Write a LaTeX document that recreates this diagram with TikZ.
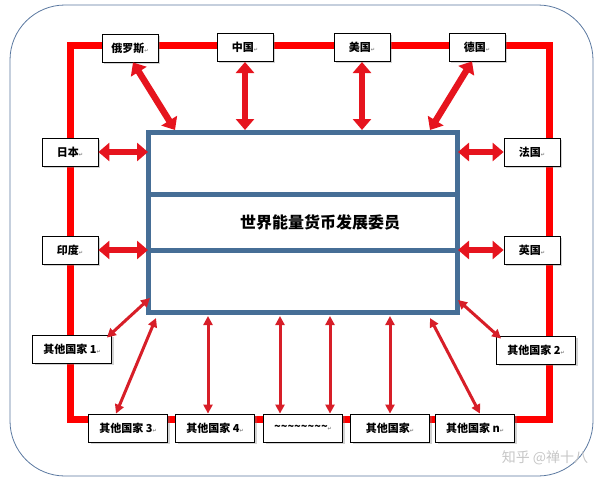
\documentclass[tikz,border=0pt]{standalone}
\usepackage{fontspec}
\setmainfont{Noto Sans CJK SC}
\newfontfamily\symfont{DejaVu Sans}
\usetikzlibrary{arrows.meta,shadows}
\tikzset{
  land/.style={draw=black,fill=white,thick,minimum height=28pt,inner sep=2pt,
    font=\bfseries\fontsize{11}{13}\selectfont,drop shadow={opacity=.35,shadow xshift=2pt,shadow yshift=-2pt}},
  bigarr/.style={draw={rgb,255:red,230;green,20;blue,30},line width=6.5pt,
    {Triangle[width=18pt,length=11pt]}-{Triangle[width=18pt,length=11pt]}},
  smallarr/.style={draw={rgb,255:red,215;green,30;blue,40},line width=3pt,
    {Triangle[width=9pt,length=9pt]}-{Triangle[width=9pt,length=9pt]}}
}
\newcommand{\rt}{\textcolor{gray}{\symfont\tiny ↵}}
\begin{document}
\begin{tikzpicture}[x=1pt,y=-1pt]
\useasboundingbox (0,0) rectangle (600,482);
\draw[draw={rgb,255:red,90;green,120;blue,160},thick,rounded corners=55pt] (10,5) rectangle (593,476);
% red frame
\draw[red,line width=7pt] (70,45) rectangle (549,419);
% central box
\draw[draw={rgb,255:red,70;green,110;blue,150},line width=5pt,fill=white] (148,132) rectangle (457,312);
\draw[draw={rgb,255:red,70;green,110;blue,150},line width=5pt] (148,194) -- (457,194);
\draw[draw={rgb,255:red,70;green,110;blue,150},line width=5pt] (148,250) -- (457,250);
\node (council) at (320,222) {\fontsize{16}{18}\selectfont\bfseries 世界能量货币发展委员};
% countries
\node[land,minimum width=56pt] (ru) at (130,48) {俄罗斯\rt};
\node[land,minimum width=56pt] (cn) at (245,47) {中国\rt};
\node[land,minimum width=56pt] (us) at (362,47) {美国\rt};
\node[land,minimum width=56pt] (de) at (477,47) {德国\rt};
\node[land,minimum width=56pt] (jp) at (70,152) {日本\rt};
\node[land,minimum width=56pt] (fr) at (532,152) {法国\rt};
\node[land,minimum width=56pt] (in) at (70,250) {印度\rt};
\node[land,minimum width=56pt] (uk) at (532,250) {英国\rt};
\node[land,minimum width=79pt] (o1) at (72,349) {其他国家 1\rt};
\node[land,minimum width=79pt] (o2) at (536,350) {其他国家 2\rt};
\node[land,minimum width=79pt] (o3) at (128,428) {其他国家 3\rt};
\node[land,minimum width=79pt] (o4) at (215,428) {其他国家 4\rt};
\node[land,minimum width=79pt] (dots) at (303,428) {\textasciitilde\textasciitilde\textasciitilde\textasciitilde\textasciitilde\textasciitilde\textasciitilde\textasciitilde\rt};
\node[land,minimum width=79pt] (ox) at (390,428) {其他国家\rt};
\node[land,minimum width=79pt] (on) at (475,428) {其他国家 n\rt};
% anchor points on the box
\coordinate (bru) at (175,130);
\coordinate (bcn) at (245,130);
\coordinate (bus) at (362,130);
\coordinate (bde) at (430,130);
\coordinate (bjp) at (148,152);
\coordinate (bfr) at (458,152);
\coordinate (bin) at (148,250);
\coordinate (buk) at (458,250);
\coordinate (bo1) at (150,298);
\coordinate (bo2) at (458,300);
\coordinate (bo3) at (156,318);
\coordinate (bo4) at (208,316);
\coordinate (bd1) at (280,316);
\coordinate (bd2) at (330,316);
\coordinate (box) at (390,316);
\coordinate (bon) at (430,318);
% arrows
\draw[bigarr] (ru.south) ++(3,0) -- (bru);
\draw[bigarr] (cn) ++(0,15) -- (bcn);
\draw[bigarr] (us) ++(0,15) -- (bus);
\draw[bigarr] (de.south) ++(-5,0) -- (bde);
\draw[bigarr] (jp.east) -- (bjp);
\draw[bigarr] (fr.west) -- (bfr);
\draw[bigarr] (in.east) -- (bin);
\draw[bigarr] (uk.west) -- (buk);
\draw[smallarr] (o1.north east) ++(-5,3) -- (bo1);
\draw[smallarr] (o2.north west) ++(5,3) -- (bo2);
\draw[smallarr] (o3.north) ++(-12,0) -- (bo3);
\draw[smallarr] (o4.north) ++(-7,0) -- (bo4);
\draw[smallarr] (dots.north) ++(-23,0) -- (bd1);
\draw[smallarr] (dots.north) ++(27,0) -- (bd2);
\draw[smallarr] (ox.north) -- (box);
\draw[smallarr] (on.north) ++(5,0) -- (bon);
\node[text=gray!45,font=\fontsize{14}{16}\selectfont] (mark) at (545,458) {知乎 @禅十八};
\end{tikzpicture}
\end{document}
